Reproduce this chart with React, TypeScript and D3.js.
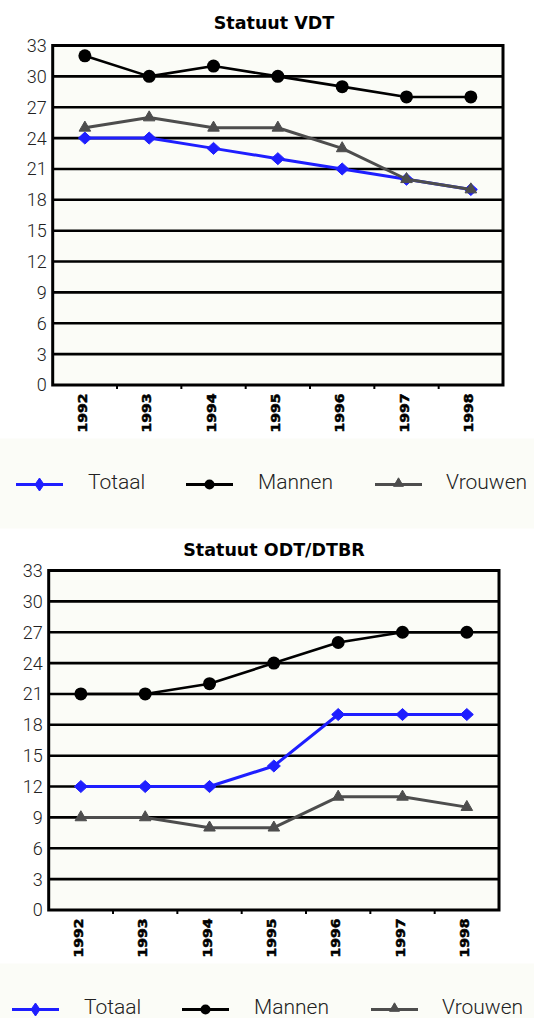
import { useEffect, useRef } from 'react'
import * as d3 from 'd3'

// Years on the x axis
const years = ['1992', '1993', '1994', '1995', '1996', '1997', '1998']
const yTicks = [0, 3, 6, 9, 12, 15, 18, 21, 24, 27, 30, 33]

// Statuut VDT
const vdtTotaal = [24, 24, 23, 22, 21, 20, 19]
const vdtMannen = [32, 30, 31, 30, 29, 28, 28]
const vdtVrouwen = [25, 26, 25, 25, 23, 20, 19]

// Statuut ODT/DTBR
const odtTotaal = [12, 12, 12, 14, 19, 19, 19]
const odtMannen = [21, 21, 22, 24, 26, 27, 27]
const odtVrouwen = [9, 9, 8, 8, 11, 11, 10]

const seriesNames = ['Totaal', 'Mannen', 'Vrouwen']
const seriesColors = ['#1e1eff', '#000000', '#4d4d4d']
const seriesWidths = [3, 2.6, 3]

const bg = '#fbfcf7'
const labelFont = 'Roboto, "Open Sans", sans-serif'

const charts = [
  { title: 'Statuut VDT', dx: 4, top: 45.5, titleY: 29, values: [vdtTotaal, vdtMannen, vdtVrouwen] },
  { title: 'Statuut ODT/DTBR', dx: 0, top: 570.5, titleY: 556, values: [odtTotaal, odtMannen, odtVrouwen] },
]

type Sel = d3.Selection<SVGSVGElement, unknown, null, undefined>

function marker(g: d3.Selection<SVGGElement, unknown, null, undefined>, i: number, legend: boolean) {
  const color = seriesColors[i]
  if (i === 0) {
    const hw = legend ? 4.5 : 6.5
    const hh = legend ? 6.5 : 6
    g.append('path')
      .attr('d', `M0,${-hh}L${hw},0L0,${hh}L${-hw},0Z`)
      .attr('fill', color)
      .attr('stroke', color)
      .attr('stroke-width', 1)
      .attr('stroke-linejoin', 'round')
  } else if (i === 1) {
    g.append('circle').attr('r', legend ? 5 : 6.5).attr('fill', color)
  } else {
    g.append('path')
      .attr('d', d3.symbol(d3.symbolTriangle, legend ? 42 : 58)())
      .attr('transform', legend ? 'translate(0,-1)' : 'translate(0,0)')
      .attr('fill', color)
      .attr('stroke', color)
      .attr('stroke-width', 1)
      .attr('stroke-linejoin', 'round')
  }
}

function drawChart(svg: Sel, chart: typeof charts[number]) {
  const left = 48.7 + chart.dx
  const right = 499 + chart.dx
  const top = chart.top
  const bottom = chart.top + 339.5

  const x = d3.scaleBand<string>().domain(years).range([left, right])
  const y = d3.scaleLinear().domain([0, 33]).range([bottom, top])
  const cx = (yr: string) => (x(yr) || 0) + x.bandwidth() / 2

  const g = svg.append('g')

  // Legend band + plot area
  g.append('rect')
    .attr('x', 0)
    .attr('y', bottom + 53.5)
    .attr('width', 534)
    .attr('height', 90)
    .attr('fill', bg)

  g.append('rect')
    .attr('x', left)
    .attr('y', top)
    .attr('width', right - left)
    .attr('height', bottom - top)
    .attr('fill', bg)

  // Gridlines
  g.selectAll('.grid')
    .data(yTicks.filter(t => t > 0 && t < 33))
    .join('line')
    .attr('x1', left)
    .attr('x2', right)
    .attr('y1', d => y(d))
    .attr('y2', d => y(d))
    .attr('stroke', '#000')
    .attr('stroke-width', 2.6)

  // Frame
  g.append('rect')
    .attr('x', left)
    .attr('y', top)
    .attr('width', right - left)
    .attr('height', bottom - top)
    .attr('fill', 'none')
    .attr('stroke', '#000')
    .attr('stroke-width', 3)

  // x tick marks at band edges
  g.selectAll('.xtick')
    .data(years.slice(1))
    .join('line')
    .attr('x1', d => x(d) || 0)
    .attr('x2', d => x(d) || 0)
    .attr('y1', bottom)
    .attr('y2', bottom + 4)
    .attr('stroke', '#000')
    .attr('stroke-width', 2)

  // y labels
  g.selectAll('.ylab')
    .data(yTicks)
    .join('text')
    .attr('x', left - 6)
    .attr('y', d => y(d))
    .attr('dy', '0.36em')
    .attr('text-anchor', 'end')
    .attr('font-family', labelFont)
    .attr('font-weight', 300)
    .attr('font-size', '18px')
    .attr('fill', '#222')
    .text(d => d)

  // x labels (rotated)
  g.selectAll('.xlab')
    .data(years)
    .join('text')
    .attr('transform', d => `translate(${cx(d) - 2},${bottom + 8.5}) rotate(-90)`)
    .attr('dy', '0.36em')
    .attr('text-anchor', 'end')
    .attr('font-family', '"DejaVu Sans", sans-serif')
    .attr('font-weight', 'bold')
    .attr('font-size', '11.5px')
    .attr('textLength', 39)
    .attr('lengthAdjust', 'spacingAndGlyphs')
    .attr('fill', '#000')
    .attr('stroke', '#000')
    .attr('stroke-width', 0.5)
    .text(d => d)

  // Series
  const line = d3.line<number>()
    .x((_, i) => cx(years[i]))
    .y(d => y(d))

  chart.values.forEach((vals, si) => {
    g.append('path')
      .datum(vals)
      .attr('d', line)
      .attr('fill', 'none')
      .attr('stroke', seriesColors[si])
      .attr('stroke-width', seriesWidths[si])
      .attr('stroke-linejoin', 'round')

    vals.forEach((v, i) => {
      const m = g.append('g').attr('transform', `translate(${cx(years[i])},${y(v)})`)
      marker(m, si, false)
    })
  })

  // Title
  g.append('text')
    .attr('x', 274)
    .attr('y', chart.titleY)
    .attr('text-anchor', 'middle')
    .attr('font-family', '"DejaVu Sans", sans-serif')
    .attr('font-weight', 'bold')
    .attr('font-size', '17.5px')
    .attr('fill', '#000')
    .text(chart.title)

  // Legend
  const legendY = bottom + 99.5
  const lineStarts = [12, 182, 371]
  const textStarts = [84, 254, 442]
  seriesNames.forEach((name, si) => {
    const lx = lineStarts[si] + chart.dx
    g.append('line')
      .attr('x1', lx)
      .attr('x2', lx + 47)
      .attr('y1', legendY)
      .attr('y2', legendY)
      .attr('stroke', seriesColors[si])
      .attr('stroke-width', 3)
    const m = g.append('g').attr('transform', `translate(${lx + 23.5},${legendY})`)
    marker(m, si, true)
    g.append('text')
      .attr('x', textStarts[si] + chart.dx)
      .attr('y', legendY + 4)
      .attr('font-family', labelFont)
      .attr('font-weight', 300)
      .attr('font-size', '21px')
      .attr('fill', '#222')
      .text(name)
  })
}

export default function App() {
  const svgRef = useRef<SVGSVGElement>(null)

  useEffect(() => {
    if (!svgRef.current) return
    const svg = d3.select(svgRef.current)
    svg.selectAll('*').remove()
    charts.forEach(c => drawChart(svg, c))
  }, [])

  return (
    <div style={{ position: 'absolute', left: 0, top: 0 }}>
      <svg ref={svgRef} width={534} height={1018} style={{ display: 'block', background: '#fff' }}></svg>
    </div>
  )
}
